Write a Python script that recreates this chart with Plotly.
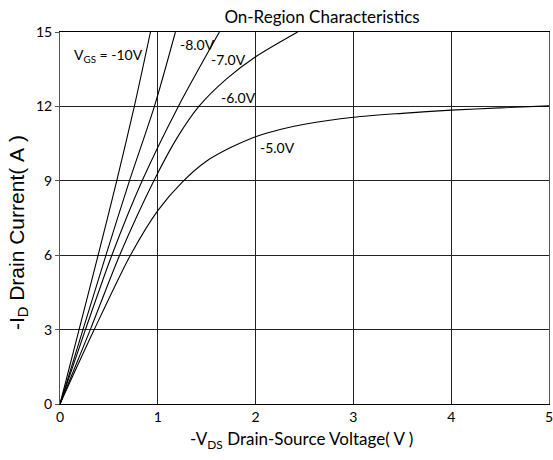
import plotly.graph_objects as go

# Data (V_DS in volts, I_D in amperes)
v_10 = [0, 0.195, 0.39, 0.58, 0.76, 0.925]
i_10 = [0, 3, 6, 9, 12, 15]

v_8 = [0, 0.235, 0.47, 0.71, 0.965, 1.18]
i_8 = [0, 3, 6, 9, 12, 15]

v_7 = [0, 0.26, 0.53, 0.84, 1.21, 1.63]
i_7 = [0, 3, 6, 9, 12, 15]

v_6 = [0, 0.31, 0.61, 0.96, 1.2, 1.42, 1.7, 2.0, 2.43]
i_6 = [0, 3, 6, 9, 10.75, 12, 13.1, 14.0, 15]

v_5 = [0, 0.35, 0.72, 1.0, 1.25, 1.5, 1.75, 2.0, 2.25, 2.5, 3.0, 3.5, 4.0, 4.5, 5.0]
i_5 = [0, 3, 6, 7.8, 8.95, 9.8, 10.35, 10.78, 11.07, 11.28, 11.56, 11.72, 11.85, 11.94, 12.02]

series = [(v_10, i_10), (v_8, i_8), (v_7, i_7), (v_6, i_6), (v_5, i_5)]

x_ticks = [0, 1, 2, 3, 4, 5]
y_ticks = [0, 3, 6, 9, 12, 15]

labels = [
    ("V<sub>GS</sub> = -10V", 0.87, 14.05, "right"),
    ("-8.0V", 1.21, 14.5, "left"),
    ("-7.0V", 1.52, 13.9, "left"),
    ("-6.0V", 1.63, 12.37, "left"),
    ("-5.0V", 2.02, 10.33, "left"),
]

FONT = "Lato, Carlito, 'Open Sans', sans-serif"
NB = "\u00a0"

fig = go.Figure()
for v, i in series:
    fig.add_trace(go.Scatter(x=v, y=i, mode="lines",
                             line=dict(color="black", width=1.1, shape="spline", smoothing=0.8),
                             showlegend=False, hoverinfo="skip"))

annotations = []
for text, x, y, anchor in labels:
    annotations.append(dict(text=text, x=x, y=y, xref="x", yref="y", xanchor=anchor,
                            yanchor="middle", showarrow=False,
                            font=dict(family=FONT, size=14, color="black")))

annotations.append(dict(text="-V<sub>DS</sub> Drain-Source Voltage( V )", x=2.47, y=-0.097,
                        xref="x", yref="paper", xanchor="center", yanchor="middle",
                        showarrow=False, font=dict(family=FONT, size=17, color="black")))
annotations.append(dict(text="-I<sub>D</sub> Drain Current(" + NB + "A" + NB + ")", x=-0.086, y=0.462,
                        xref="paper", yref="paper", xanchor="center", yanchor="middle",
                        textangle=-90, showarrow=False,
                        font=dict(family="'Liberation Sans', Arial, sans-serif", size=21, color="black")))

fig.update_layout(
    width=553, height=460,
    margin=dict(l=60, r=4, t=32, b=56),
    paper_bgcolor="white", plot_bgcolor="white",
    title=dict(text="On-Region Characteristics", x=322 / 553, xref="container", xanchor="center",
               y=1 - 17 / 460, yref="container", yanchor="middle",
               font=dict(family=FONT, size=17, color="black")),
    annotations=annotations,
    xaxis=dict(range=[0, 5], tickvals=x_ticks, ticktext=[str(t) for t in x_ticks],
               showgrid=True, gridcolor="#222", gridwidth=1, automargin=False,
               showline=True, linecolor="black", linewidth=1, mirror=True,
               zeroline=False, ticks="", ticklabeloverflow="allow",
               tickfont=dict(family=FONT, size=14, color="black")),
    yaxis=dict(range=[0, 15], tickvals=y_ticks, ticktext=[str(t) for t in y_ticks],
               showgrid=True, gridcolor="#222", gridwidth=1, automargin=False,
               showline=True, linecolor="#555", linewidth=1, mirror=True,
               zeroline=False, ticks="outside", ticklen=4, tickcolor="#555",
               ticklabeloverflow="allow",
               tickfont=dict(family=FONT, size=14, color="black")),
)

fig.write_html("out.html", config={"displayModeBar": False},
               post_script="document.body.style.margin='0';document.body.style.overflow='hidden';")
